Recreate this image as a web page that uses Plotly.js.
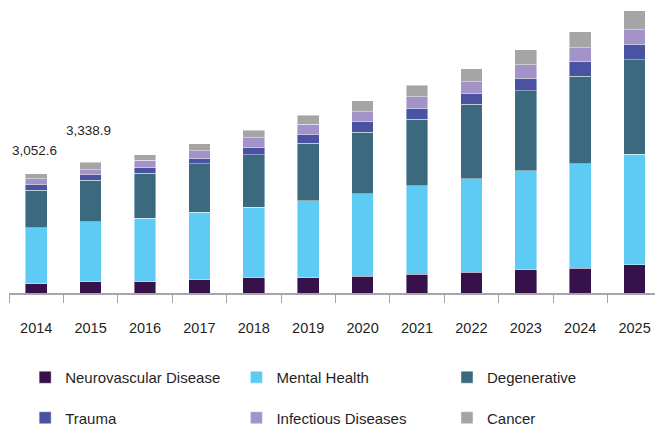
<!DOCTYPE html>
<html>
<head>
<meta charset="utf-8">
<script src="https://cdn.plot.ly/plotly-3.0.1.min.js"></script>
<style>html,body{margin:0;padding:0;background:#fff;}#chart{width:655px;height:427px;}</style>
</head>
<body>
<div id="chart"></div>
<script>
const years = ['2014','2015','2016','2017','2018','2019','2020','2021','2022','2023','2024','2025'];
const neurovascular = [238, 290, 292, 340, 384, 390, 427, 479, 537, 589, 632, 717];
const mentalHealth = [1433, 1536, 1623, 1725, 1809, 1963, 2106, 2260, 2388, 2534, 2677, 2833];
const degenerative = [957, 1060, 1142, 1244, 1349, 1477, 1579, 1707, 1904, 2047, 2237, 2413];
const trauma = [154, 136, 154, 138, 187, 230, 281, 281, 281, 325, 384, 402];
const infectious = [136, 136, 189, 187, 238, 256, 238, 297, 297, 340, 340, 366];
const cancer = [134.6, 180.9, 136, 187, 189, 230, 292, 292, 333, 384, 417, 486];
const labelYears = ['2014', '2015'];
const labelTexts = ['3,052.6', '3,338.9'];

const FONT = 'Liberation Sans, Arial, sans-serif';
const series = [
  {name: 'Neurovascular Disease', y: neurovascular, color: '#36114a', legend: 'legend'},
  {name: 'Mental Health', y: mentalHealth, color: '#5ecbf5', legend: 'legend2'},
  {name: 'Degenerative', y: degenerative, color: '#3b6a7f', legend: 'legend3'},
  {name: 'Trauma', y: trauma, color: '#4953a2', legend: 'legend'},
  {name: 'Infectious Diseases', y: infectious, color: '#a493c9', legend: 'legend2'},
  {name: 'Cancer', y: cancer, color: '#a5a5a5', legend: 'legend3'}
];
const traces = series.map((s, i) => ({
  type: 'bar', x: years, y: s.y, name: s.name, legend: s.legend, legendgroup: 'g' + i,
  marker: {color: s.color, line: {color: 'rgba(255,255,255,0.7)', width: 0.6}},
  width: 0.4, hoverinfo: 'skip'
}));
const totals = years.map((_, i) => series.reduce((a, s) => a + s.y[i], 0));
const shifts = [{x: -2, y: 14}, {x: -2, y: 22}];
const annotations = labelYears.map((yr, k) => ({
  x: years.indexOf(yr), y: totals[years.indexOf(yr)], xref: 'x', yref: 'y', text: labelTexts[k],
  showarrow: false, yanchor: 'bottom', xshift: shifts[k].x, yshift: shifts[k].y,
  font: {family: FONT, size: 13.5, color: '#1f1f1f'}
}));
const legendBase = {
  orientation: 'v', traceorder: 'grouped', tracegroupgap: 18, yanchor: 'top', y: -0.232,
  xanchor: 'left', bgcolor: 'rgba(0,0,0,0)', font: {family: FONT, size: 15, color: '#1f1f1f'},
  itemclick: false, itemdoubleclick: false
};
const layout = {
  width: 655, height: 427,
  margin: {l: 9, r: 0, t: 0, b: 134, autoexpand: false},
  paper_bgcolor: '#fff', plot_bgcolor: '#fff',
  barmode: 'stack', showlegend: true,
  font: {family: FONT, color: '#1f1f1f'},
  xaxis: {
    type: 'category', range: [-0.5, 11.375], showgrid: false, zeroline: false,
    showline: true, linecolor: '#a6a6a6', linewidth: 1.5,
    ticks: 'outside', tickson: 'boundaries', ticklen: 8, tickcolor: '#a6a6a6', tickwidth: 1,
    tickfont: {family: FONT, size: 14.5, color: '#1f1f1f'}, ticklabelstandoff: 21, fixedrange: true
  },
  yaxis: {range: [0, 7493], visible: false, showgrid: false, zeroline: false, fixedrange: true},
  legend: Object.assign({}, legendBase, {x: 0.025}),
  legend2: Object.assign({}, legendBase, {x: 0.352}),
  legend3: Object.assign({}, legendBase, {x: 0.678}),
  annotations: annotations
};
Plotly.newPlot('chart', traces, layout, {displayModeBar: false, staticPlot: true});
</script>
</body>
</html>
